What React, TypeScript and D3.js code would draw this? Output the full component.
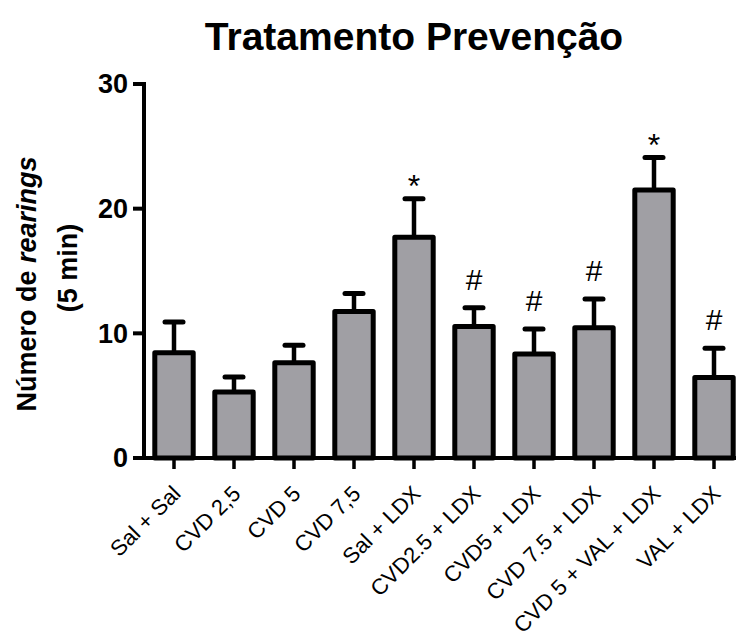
import React from "react";
import * as d3 from "d3";

// group labels, means and upper error (mean + SEM), significance marks
const groups = [
  "Sal + Sal",
  "CVD 2,5",
  "CVD 5",
  "CVD 7,5",
  "Sal + LDX",
  "CVD2.5 + LDX",
  "CVD5 + LDX",
  "CVD 7.5 + LDX",
  "CVD 5 + VAL + LDX",
  "VAL + LDX",
];
const means = [8.45, 5.3, 7.65, 11.75, 17.7, 10.55, 8.35, 10.45, 21.5, 6.45];
const upper = [10.9, 6.5, 9.05, 13.2, 20.8, 12.05, 10.35, 12.75, 24.1, 8.8];
const marks = ["", "", "", "", "*", "#", "#", "#", "*", "#"];
const yTicks = [0, 10, 20, 30];

const W = 736;
const H = 643;
const font = "'Liberation Sans', Arial, sans-serif";

const App = () => {
  const x = d3
    .scaleBand<string>()
    .domain(groups)
    .range([144, 744])
    .paddingInner(0.36)
    .paddingOuter(0.18);
  const y = d3.scaleLinear().domain([0, 30]).range([458, 84]);
  const bw = x.bandwidth();

  return (
    <svg
      width={W}
      height={H}
      style={{ position: "absolute", left: 0, top: 0, background: "#fff" }}
      fontFamily={font}
    >
      {/* title */}
      <text x={414} y={50} textAnchor="middle" fontSize={39} fontWeight="bold">
        Tratamento Prevenção
      </text>

      {/* y axis title */}
      <g transform="translate(36,284) rotate(-90)">
        <text textAnchor="middle" fontSize={27} fontWeight="bold">
          Número de <tspan fontStyle="italic">rearings</tspan>
        </text>
      </g>
      <g transform="translate(77,268) rotate(-90)">
        <text textAnchor="middle" fontSize={27} fontWeight="bold">
          (5 min)
        </text>
      </g>

      {/* bars */}
      {groups.map((g, i) => {
        const cx = x(g)! + bw / 2;
        return (
          <g key={g}>
            <line
              x1={cx}
              x2={cx}
              y1={y(means[i])}
              y2={y(upper[i])}
              stroke="#000"
              strokeWidth={4.5}
            />
            <line
              x1={cx - 9}
              x2={cx + 9}
              y1={y(upper[i])}
              y2={y(upper[i])}
              stroke="#000"
              strokeWidth={5}
              strokeLinecap="round"
            />
            <rect
              x={x(g)}
              y={y(means[i])}
              width={bw}
              height={y(0) - y(means[i])}
              fill="#a09fa4"
              stroke="#000"
              strokeWidth={5}
              strokeLinejoin="round"
            />
            {marks[i] && (
              <text
                x={cx}
                y={y(upper[i]) - (marks[i] === "#" ? 18 : 2)}
                textAnchor="middle"
                fontSize={marks[i] === "#" ? 30 : 32}
              >
                {marks[i]}
              </text>
            )}
          </g>
        );
      })}

      {/* y axis */}
      <line x1={144} x2={144} y1={y(30) - 2} y2={y(0) + 2} stroke="#000" strokeWidth={4} />
      {yTicks.map((t) => (
        <g key={t} transform={`translate(0,${y(t)})`}>
          <line x1={133} x2={144} stroke="#000" strokeWidth={4} />
          <text
            x={128}
            dy="0.35em"
            textAnchor="end"
            fontSize={27}
            fontWeight="bold"
          >
            {t}
          </text>
        </g>
      ))}

      {/* x axis */}
      <line x1={133} x2={744} y1={y(0)} y2={y(0)} stroke="#000" strokeWidth={4} />
      {groups.map((g) => {
        const cx = x(g)! + bw / 2;
        return (
          <g key={g}>
            <line x1={cx} x2={cx} y1={y(0)} y2={y(0) + 11} stroke="#000" strokeWidth={3.5} />
            <text
              transform={`translate(${cx + 8},${y(0) + 37}) rotate(-45)`}
              textAnchor="end"
              fontSize={22}
            >
              {g}
            </text>
          </g>
        );
      })}
    </svg>
  );
};

export default App;
